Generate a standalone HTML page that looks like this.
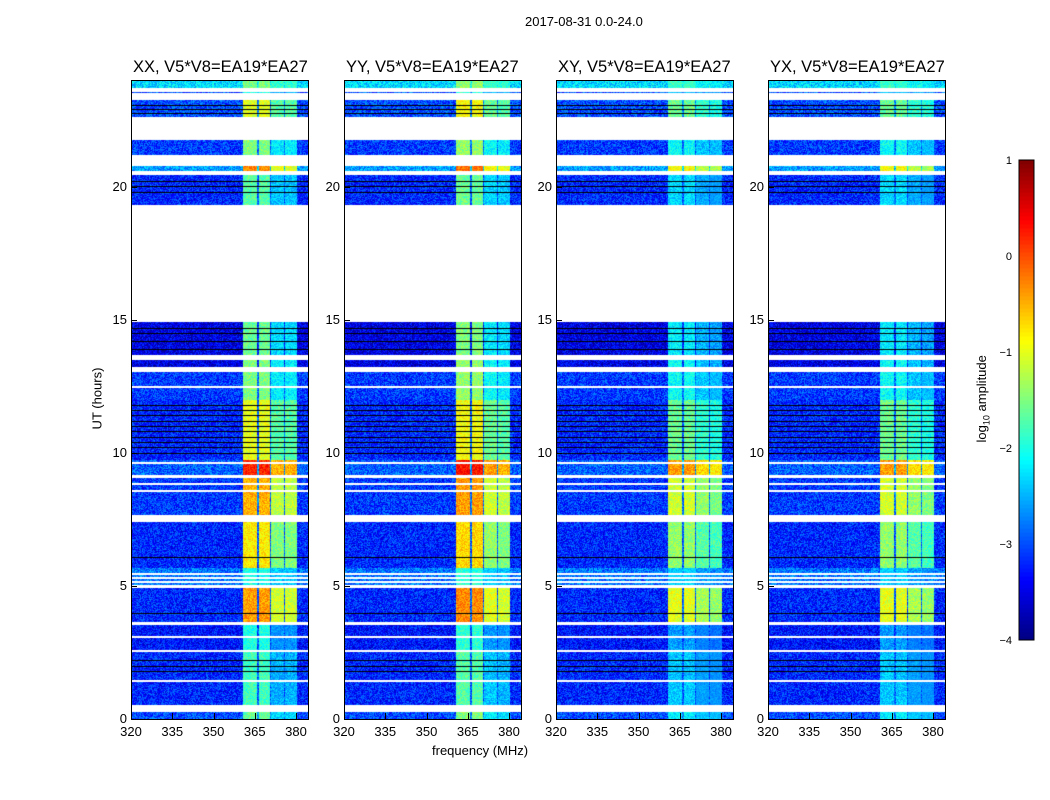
<!DOCTYPE html>
<html><head><meta charset="utf-8">
<style>
body{margin:0;background:#fff;width:1050px;height:800px;position:relative;overflow:hidden;font-family:"Liberation Sans",sans-serif;}
.t{position:absolute;white-space:nowrap;color:#000;}
canvas{position:absolute;}
.frame{position:absolute;border:1px solid #000;box-sizing:border-box;}
</style></head><body>
<div class="t" style="left:525px;top:14px;font-size:13px;">2017-08-31 0.0-24.0</div>
<div class="t" style="left:66px;top:391px;font-size:13px;transform:rotate(-90deg);">UT (hours)</div>
<div class="t" style="left:432px;top:743px;font-size:13px;">frequency (MHz)</div>
<div class="t" style="left:939px;top:390px;font-size:13px;transform:rotate(-90deg);">log<sub style="font-size:9px">10</sub> amplitude</div>
<div id="root"></div>
<svg id="cb" width="1050" height="800" style="position:absolute;left:0;top:0"></svg>
<script>
// ---- data ----
const panelTitles=["XX, V5*V8=EA19*EA27","YY, V5*V8=EA19*EA27","XY, V5*V8=EA19*EA27","YX, V5*V8=EA19*EA27"];
const panelLefts=[131,344,556,768];
const xTicks=[320,335,350,365,380];
const yTicks=[0,5,10,15,20];
const cbTicks=[1,0,-1,-2,-3,-4];
// time segments: [startHour, endHour, backgroundLog, bandLog]
const segStart=[23.7,23.5,22.6,21.18,20.58,19.3,13.67,13.22,11.98,9.73,9.16,7.66,5.67,5.03,3.64,2.59,0.53,0];
const segEnd  =[24.0,23.55,23.24,21.74,20.77,20.43,14.9,13.48,13.03,11.98,9.73,9.05,7.4,5.67,4.92,3.53,2.52,0.26];
const segBg   =[-2.3,-3.0,-3.0,-3.1,-2.6,-3.2,-3.5,-3.5,-3.1,-3.2,-2.9,-3.1,-3.2,-2.8,-3.2,-3.3,-3.2,-3.0];
const segBand =[-1.5,-2.0,-1.0,-1.5,-0.3,-1.7,-1.6,-1.5,-1.5,-1.0,0.2,-0.5,-0.8,-2.0,-0.4,-2.0,-1.8,-1.6];
// frequency bands (MHz)
const bandStart=[360.7,366.2,370.9,376.0];
const bandEnd  =[365.5,370.5,375.3,380.0];
// per-panel band offsets
const bandOffset=[[0,0,-0.7,-0.7],[0.1,0.1,-0.6,-0.7],[-0.6,-0.6,-0.9,-1.0],[-0.6,-0.6,-0.9,-1.0]];
const whiteLines=[12.52,9.66,8.86,8.6,7.66,5.5,5.35,5.2,3.6,3.1,1.45,0.35];
const blackLines=[23.05,22.9,22.75,20.2,20.0,19.8,14.7,14.5,14.2,13.9,11.8,11.6,11.4,11.2,11.0,10.8,10.6,10.4,10.2,10.0,6.1,4.0,2.2,2.0,1.8];
// ---- rendering ----
const PW=177,PH=639,F0=320,PXMHZ=2.75;
function jet(v){let t=(v+4)/5;t=Math.max(0,Math.min(1,t));
 const r=Math.max(0,Math.min(1,1.5-Math.abs(4*t-3))),g=Math.max(0,Math.min(1,1.5-Math.abs(4*t-2))),b=Math.max(0,Math.min(1,1.5-Math.abs(4*t-1)));
 return [r*255|0,g*255|0,b*255|0];}
function hash(x,y,p){let h=(x*374761393+y*668265263+p*2147483647)|0;h=(h^(h>>>13))*1274126177|0;return ((h^(h>>>16))>>>0)/4294967296;}
const root=document.getElementById('root');
const yOf=h=>80+PH*(1-h/24);
panelLefts.forEach((L,p)=>{
 const c=document.createElement('canvas');c.width=PW;c.height=PH;c.style.left=L+'px';c.style.top='80px';
 
 
 root.appendChild(c);
 const ctx=c.getContext('2d');const img=ctx.createImageData(PW,PH);
 for(let y=0;y<PH;y++){const h=24*(1-(y+0.5)/PH);let s=-1;
  for(let i=0;i<segStart.length;i++){if(h>=segStart[i]&&h<=segEnd[i]){s=i;break;}}
  for(let x=0;x<PW;x++){const k=(y*PW+x)*4;let col=[255,255,255];
   if(s>=0){const f=F0+x/PXMHZ;let v=segBg[s]+(hash(x,y,p)-0.5)*0.9;
    for(let b=0;b<4;b++){if(f>=bandStart[b]&&f<=bandEnd[b]){v=segBand[s]+bandOffset[p][b]+(hash(x,y,p+7)-0.5)*0.6;}}
    if(f>=bandStart[0]&&f<=bandEnd[3]&&v<segBg[s]+0.4)v+=0.3;
    col=jet(v);}
   img.data[k]=col[0];img.data[k+1]=col[1];img.data[k+2]=col[2];img.data[k+3]=255;}}
 ctx.putImageData(img,0,0);
 ctx.fillStyle='#fff';whiteLines.forEach(h=>{ctx.fillRect(0,Math.round(PH*(1-h/24)),PW,2);});
 ctx.fillStyle='#000';blackLines.forEach(h=>{ctx.fillRect(0,Math.round(PH*(1-h/24)),PW,1);});
 const fr=document.createElement('div');fr.className='frame';fr.style.cssText=`left:${L}px;top:80px;width:${PW+1}px;height:${PH+1}px`;
 
 
 root.appendChild(fr);
 const t=document.createElement('div');t.className='t';t.textContent=panelTitles[p];
 t.style.cssText=`left:${L+2}px;top:58px;font-size:16.5px;`;
 
 
 root.appendChild(t);
 xTicks.forEach(v=>{const x=L+(v-F0)*PXMHZ;
  const d=document.createElement('div');d.className='t';d.textContent=v;d.style.cssText=`left:${x-12}px;top:724px;width:24px;text-align:center;font-size:13px`;
  
  
  root.appendChild(d);
  const m=document.createElement('div');m.style.cssText=`position:absolute;left:${x}px;top:713px;width:1px;height:6px;background:#000`;
  
  
  root.appendChild(m);});
 yTicks.forEach(v=>{const y=yOf(v);
  const d=document.createElement('div');d.className='t';d.textContent=v;d.style.cssText=`left:${L-30}px;top:${y-8}px;width:26px;text-align:right;font-size:13px`;
  
  
  root.appendChild(d);
  const m=document.createElement('div');m.style.cssText=`position:absolute;left:${L}px;top:${y}px;width:6px;height:1px;background:#000`;
  
  
  root.appendChild(m);});
});
// colorbar
const svg=document.getElementById('cb');const NS='http://www.w3.org/2000/svg';
const CB_T=160,CB_B=640,CB_L=1019,CB_W=15;
const cbY=v=>CB_B-(v+4)/5*(CB_B-CB_T);
for(let i=0;i<120;i++){const v0=-4+5*i/120,v1=-4+5*(i+1)/120;const c=jet((v0+v1)/2);
 const r=document.createElementNS(NS,'rect');r.setAttribute('x',CB_L);r.setAttribute('y',cbY(v1));r.setAttribute('width',CB_W);r.setAttribute('height',cbY(v0)-cbY(v1)+0.5);
 r.setAttribute('fill',`rgb(${c[0]},${c[1]},${c[2]})`);
 
 
 svg.appendChild(r);}
const fr=document.createElementNS(NS,'rect');fr.setAttribute('x',CB_L);fr.setAttribute('y',CB_T);fr.setAttribute('width',CB_W);fr.setAttribute('height',CB_B-CB_T);fr.setAttribute('fill','none');fr.setAttribute('stroke','#000');


svg.appendChild(fr);
cbTicks.forEach(v=>{const y=cbY(v);
 const t=document.createElementNS(NS,'text');t.setAttribute('x',1012);t.setAttribute('y',y+4);t.setAttribute('text-anchor','end');t.setAttribute('font-size','11');t.setAttribute('font-family','Liberation Sans, sans-serif');t.textContent=v<0?'\u2212'+(-v):v;
 
 
 svg.appendChild(t);});
</script>
</body></html>
